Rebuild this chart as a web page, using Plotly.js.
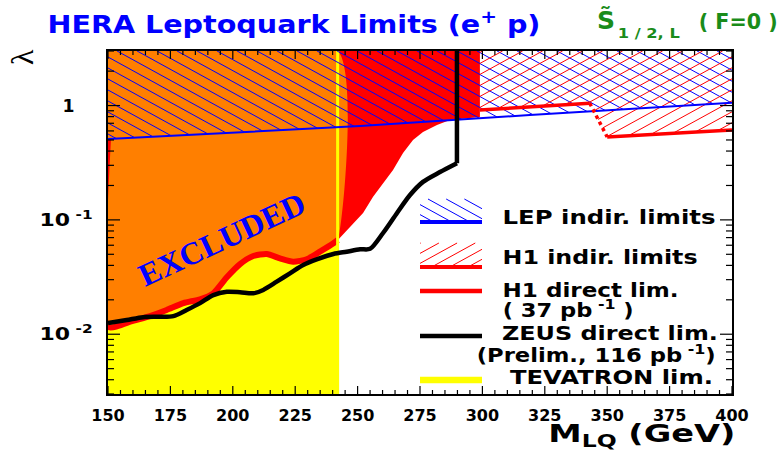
<!DOCTYPE html>
<html><head><meta charset="utf-8">
<script src="https://cdn.plot.ly/plotly-3.0.1.min.js"></script>
<style>html,body{margin:0;padding:0;background:#fff}#chart{width:783px;height:453px}</style>
</head><body><div id="chart"></div>
<script>
// ---------------- data ----------------
const massTickVals = [150, 175, 200, 225, 250, 275, 300, 325, 350, 375, 400];
const massTickText = ['150', '175', '200', '225', '250', '275', '300', '325', '350', '375', '400'];
const lambdaTickVals = [0.01, 0.1, 1];
const lambdaTickText = ['10<sup> -2</sup>', '10<sup> -1</sup>', '1\u00a0\u00a0\u00a0'];

// LEP indirect limit (lambda above excluded)
const lepM = [150, 251, 319, 400];
const lepLambda = [0.51, 0.662, 0.827, 1.06];

// H1 indirect limit
const h1IndirM = [299, 343, 350, 400];
const h1IndirLambda = [0.914, 1.05, 0.531, 0.611];

// H1 direct limit (37 pb^-1)
const h1DirM = [150, 160, 166.8, 173.5, 180.2, 186.9, 192.2, 197.6, 202.9, 208.2, 213.6, 218.9, 224.2, 229.6, 234.9, 240.3, 242.1,
                247, 252.2, 256.2, 260.2, 264.2, 268.2, 272.2, 276.2, 281.8, 287, 299, 299];
const h1DirLambda = [0.0116, 0.0131, 0.0144, 0.0163, 0.0187, 0.0202, 0.0228, 0.0315, 0.0411, 0.0483, 0.0503, 0.0461, 0.0431, 0.0452, 0.0527, 0.0624, 0.0667,
                     0.0867, 0.115, 0.159, 0.210, 0.273, 0.385, 0.500, 0.587, 0.676, 0.748, 0.794, 3.0];

// ZEUS direct limit (preliminary, 116 pb^-1)
const zeusM = [150, 157.5, 164.1, 170.8, 176.2, 181.5, 186.9, 192.2, 197.6, 202.9, 208.2, 212.2, 217.6, 222.9, 228.2, 233.6, 240.3,
               245.6, 251, 255, 260.2, 265.8, 271, 276.2, 283, 289.8, 289.8];
const zeusLambda = [0.0125, 0.0133, 0.0141, 0.0142, 0.0144, 0.0163, 0.0187, 0.0220, 0.0235, 0.0233, 0.0228, 0.0244, 0.0288, 0.0341, 0.0403, 0.0452, 0.0503,
                    0.0527, 0.0553, 0.0558, 0.0768, 0.115, 0.165, 0.215, 0.262, 0.313, 3.0];

// TEVATRON mass limit
const tevatronM = 242;

// axis ranges
const massMin = 150, massMax = 400;
const lambdaMin = 0.003, lambdaMax = 3;

// ---------------- geometry helpers ----------------
const MG = {l: 108, r: 51, t: 51, b: 59};
const W = 783 - MG.l - MG.r, H = 453 - MG.t - MG.b;
const LMIN = Math.log10(lambdaMin), LMAX = Math.log10(lambdaMax);
const toPx = m => (m - massMin) / (massMax - massMin) * W;
const toPy = l => (LMAX - Math.log10(l)) / (LMAX - LMIN) * H;
const fromPx = px => massMin + px / W * (massMax - massMin);
const fromPy = py => Math.pow(10, LMAX - py / H * (LMAX - LMIN));
const PX = x => (x - MG.l) / W;
const PY = y => (MG.t + H - y) / H;

function interp(pts, x) {
  if (x <= pts[0][0]) return pts[0][1];
  for (let i = 1; i < pts.length; i++) {
    if (x <= pts[i][0]) {
      const [x1, y1] = pts[i - 1], [x2, y2] = pts[i];
      return x2 === x1 ? Math.max(y1, y2) : y1 + (y2 - y1) * (x - x1) / (x2 - x1);
    }
  }
  return pts[pts.length - 1][1];
}
function hatch(pts, xa, xb, top, s, gap, phase) {
  const out = [];
  for (let c = -3000 + phase; c < 3000; c += gap) {
    let cand = [xa, xb];
    pts.forEach(p => cand.push(p[0]));
    for (let i = 1; i < pts.length; i++) {
      const [x1, y1] = pts[i - 1], [x2, y2] = pts[i];
      if (x2 === x1) continue;
      const m = (y2 - y1) / (x2 - x1);
      if (Math.abs(s - m) < 1e-9) continue;
      const x = (y1 - m * x1 - c) / (s - m);
      if (x > x1 && x < x2) cand.push(x);
    }
    cand.push((top - c) / s);
    cand = cand.filter(x => x >= xa && x <= xb).sort((a, b) => a - b);
    let cur = null;
    const segs = [];
    for (let i = 1; i < cand.length; i++) {
      const u = cand[i - 1], v = cand[i];
      if (v - u < 1e-6) continue;
      const mid = (u + v) / 2, y = c + s * mid;
      if (y >= top - 1e-9 && y <= interp(pts, mid) + 1e-9) {
        if (cur && Math.abs(cur[1] - u) < 1e-6) cur[1] = v;
        else { if (cur) segs.push(cur); cur = [u, v]; }
      }
    }
    if (cur) segs.push(cur);
    segs.forEach(sg => out.push([[sg[0], c + s * sg[0]], [sg[1], c + s * sg[1]]]));
  }
  return out;
}
function segTrace(segs, color, width) {
  const x = [], y = [];
  segs.forEach(([a, b]) => { x.push(fromPx(a[0]), fromPx(b[0]), null); y.push(fromPy(a[1]), fromPy(b[1]), null); });
  return {x, y, type: 'scatter', mode: 'lines', line: {color, width}, hoverinfo: 'skip', showlegend: false, connectgaps: false};
}

// ---------------- traces ----------------
const traces = [];
traces.push({x: [massMin, tevatronM, tevatronM, massMin], y: [lambdaMin, lambdaMin, lambdaMax, lambdaMax],
  type: 'scatter', mode: 'lines', fill: 'toself', fillcolor: '#FFFF00', line: {width: 0}, hoverinfo: 'skip', showlegend: false});
traces.push({x: h1DirM.concat([massMin]), y: h1DirLambda.concat([lambdaMax]),
  type: 'scatter', mode: 'lines', fill: 'toself', fillcolor: '#FF0000', line: {width: 0}, hoverinfo: 'skip', showlegend: false});
const leftIdx = h1DirM.map((m, i) => i).filter(i => h1DirM[i] <= tevatronM + 0.2);
const leftM = leftIdx.map(i => h1DirM[i]), leftL = leftIdx.map(i => h1DirLambda[i]);
traces.push({x: leftM.concat([leftM[leftM.length - 1], massMin]), y: leftL.concat([lambdaMax, lambdaMax]),
  type: 'scatter', mode: 'lines', fill: 'toself', fillcolor: '#FF7F00', line: {width: 0, shape: 'spline', smoothing: 0.6}, hoverinfo: 'skip', showlegend: false});
traces.push({x: [lepM[0]].concat(leftM), y: [lepLambda[0]].concat(leftL), type: 'scatter', mode: 'lines',
  line: {color: '#FF0000', width: 6, shape: 'spline', smoothing: 0.6}, hoverinfo: 'skip', showlegend: false});
traces.push({x: [tevatronM, tevatronM], y: [lambdaMin, lambdaMax], type: 'scatter', mode: 'lines',
  line: {color: '#FFFF00', width: 3}, hoverinfo: 'skip', showlegend: false});
const lepPts = lepM.map((m, i) => [toPx(m), toPy(lepLambda[i])]);
traces.push(segTrace(hatch(lepPts, 0, W, 0, 0.55, 11, 3), '#0000FF', 1));
const h1iPts = h1IndirM.map((m, i) => [toPx(m), toPy(h1IndirLambda[i])]);
traces.push(segTrace(hatch(h1iPts, toPx(h1IndirM[0]), W, 0, -0.55, 11, 5), '#FF0000', 1));
traces.push({x: lepM, y: lepLambda, type: 'scatter', mode: 'lines', line: {color: '#0000FF', width: 2}, hoverinfo: 'skip', showlegend: false});
traces.push({x: h1IndirM.slice(0, 2), y: h1IndirLambda.slice(0, 2), type: 'scatter', mode: 'lines', line: {color: '#FF0000', width: 3.5}, hoverinfo: 'skip', showlegend: false});
traces.push({x: h1IndirM.slice(1, 3), y: h1IndirLambda.slice(1, 3), type: 'scatter', mode: 'lines', line: {color: '#FF0000', width: 3.5, dash: 'dot'}, hoverinfo: 'skip', showlegend: false});
traces.push({x: h1IndirM.slice(2), y: h1IndirLambda.slice(2), type: 'scatter', mode: 'lines', line: {color: '#FF0000', width: 3.5}, hoverinfo: 'skip', showlegend: false});
const nZ = zeusM.length;
traces.push({x: zeusM.slice(0, nZ - 1), y: zeusLambda.slice(0, nZ - 1), type: 'scatter', mode: 'lines', line: {color: '#000000', width: 4.5, shape: 'spline', smoothing: 0.8}, hoverinfo: 'skip', showlegend: false});
traces.push({x: zeusM.slice(nZ - 2), y: zeusLambda.slice(nZ - 2), type: 'scatter', mode: 'lines', line: {color: '#000000', width: 4.5}, hoverinfo: 'skip', showlegend: false});

// ---------------- frame ticks (inside, on all four sides), drawn on top ----------------
const minorY = [];
[-3, -2, -1, 0].forEach(k => { for (let d = 2; d <= 9; d++) { const v = d * Math.pow(10, k); if (v >= lambdaMin && v <= lambdaMax) minorY.push(v); } });
const tkx = [], tky = [];
for (let v = massMin; v <= massMax; v += 5) {
  const len = (v - massMin) % 25 === 0 ? 8 : 4;
  tkx.push(v, v, null, v, v, null);
  tky.push(lambdaMin, fromPy(H - len), null, lambdaMax, fromPy(len), null);
}
lambdaTickVals.map(v => [v, 12]).concat(minorY.map(v => [v, 6])).forEach(([v, len]) => {
  tkx.push(massMin, fromPx(len), null, massMax, fromPx(W - len), null);
  tky.push(v, v, null, v, v, null);
});
traces.push({x: tkx, y: tky, type: 'scatter', mode: 'lines', line: {color: '#000000', width: 1.2}, hoverinfo: 'skip', showlegend: false, connectgaps: false, cliponaxis: true});

// ---------------- legend (drawn by hand) ----------------
const shapes = [];
const lx0 = 420, lx1 = 482;
function hatchShapes(y0, y1, s, color, phase) {
  const pts = [[lx0 - MG.l, y1 - MG.t], [lx1 - MG.l, y1 - MG.t]];
  hatch(pts, lx0 - MG.l, lx1 - MG.l, y0 - MG.t, s, 10, phase).forEach(([a, b]) => {
    shapes.push({type: 'line', xref: 'paper', yref: 'paper', x0: PX(a[0] + MG.l), y0: PY(a[1] + MG.t), x1: PX(b[0] + MG.l), y1: PY(b[1] + MG.t), line: {color, width: 1}});
  });
}
function lineShape(y, color, width) {
  shapes.push({type: 'line', xref: 'paper', yref: 'paper', x0: PX(lx0), x1: PX(lx1), y0: PY(y), y1: PY(y), line: {color, width}});
}
hatchShapes(199, 222, 0.55, '#0000FF', 2); lineShape(222, '#0000FF', 4);
hatchShapes(243, 267, -0.55, '#FF0000', 4); lineShape(267, '#FF0000', 4);
lineShape(291, '#FF0000', 4.5);
lineShape(336, '#000000', 4.5);
lineShape(380, '#FFFF00', 6.5);

const FB = 'DejaVu Sans';
const stretch = [];
function ann(text, x, y, size, color, anchor, width) {
  stretch.push(width || null);
  return {text, x: PX(x), y: PY(y), xref: 'paper', yref: 'paper', showarrow: false,
    xanchor: anchor || 'center', yanchor: 'middle', font: {family: FB, size, color: color || '#000', weight: 'bold'}};
}
const annotations = [
  ann('HERA Leptoquark Limits (e<sup>+</sup> p)', 293.5, 23, 24, '#0000FF', 'center', 493),
  ann('S\u0303', 595, 21, 25, '#1A8C1A', 'left'),
  ann('1 / 2, L', 649, 33, 14, '#1A8C1A', 'center', 62),
  ann('( F=0 )', 737.5, 22, 21, '#1A8C1A', 'center', 79),
  ann('M<sub>LQ</sub> (GeV)', 642, 436, 24, '#000', 'center', 187),
  ann('LEP indir. limits', 608.5, 217, 19, '#000', 'center', 213),
  ann('H1 indir. limits', 599.5, 257, 19, '#000', 'center', 195),
  ann('H1 direct lim.', 590, 290, 19, '#000', 'center', 176),
  ann('( 37 pb<sup> -1</sup> )', 567.5, 309, 19, '#000', 'center', 131),
  ann('ZEUS direct lim.', 610, 333, 19, '#000', 'center', 216),
  ann('(Prelim., 116 pb<sup> -1</sup>)', 595.5, 354, 19, '#000', 'center', 239),
  ann('TEVATRON lim.', 611.5, 377, 19, '#000', 'center', 203)
];
annotations.push({text: '\u03bb', x: PX(22), y: PY(57), xref: 'paper', yref: 'paper', showarrow: false, textangle: -90,
   xanchor: 'center', yanchor: 'middle', font: {family: 'Liberation Serif', size: 32, color: '#000'}});
stretch.push(null);
annotations.push({text: 'EXCLUDED', x: PX(222), y: PY(239), xref: 'paper', yref: 'paper', showarrow: false, textangle: -25,
   xanchor: 'center', yanchor: 'middle', font: {family: 'Liberation Serif', size: 32, color: '#0000FF', weight: 'bold'}});
stretch.push(null);
const yLabelWidths = [53, 53, 30];

const layout = {
  width: 783, height: 453, margin: MG, paper_bgcolor: '#fff', plot_bgcolor: '#fff', showlegend: false,
  xaxis: {range: [massMin, massMax], tickmode: 'array', tickvals: massTickVals, ticktext: massTickText,
    ticks: '', showline: true, mirror: true, linewidth: 2, linecolor: '#000',
    showgrid: false, zeroline: false, ticklabelstandoff: 6,
    tickfont: {family: FB, size: 16, color: '#000', weight: 'bold'}},
  yaxis: {type: 'log', range: [LMIN, LMAX], tickmode: 'array', tickvals: lambdaTickVals, ticktext: lambdaTickText,
    ticks: '', showline: true, mirror: true, linewidth: 2, linecolor: '#000',
    showgrid: false, zeroline: false, ticklabelstandoff: 10,
    tickfont: {family: FB, size: 17, color: '#000', weight: 'bold'}},
  shapes, annotations
};
Plotly.newPlot('chart', traces, layout, {displayModeBar: false, staticPlot: true}).then(gd => {
  gd.querySelectorAll('.annotation').forEach(g => {
    const i = +g.getAttribute('data-index');
    const w = stretch[i];
    const t = g.querySelector('text.annotation-text');
    if (w && t) { t.setAttribute('textLength', w); t.setAttribute('lengthAdjust', 'spacingAndGlyphs'); }
  });
  gd.querySelectorAll('.ytick text').forEach((t, i) => {
    if (yLabelWidths[i]) { t.setAttribute('textLength', yLabelWidths[i]); t.setAttribute('lengthAdjust', 'spacingAndGlyphs'); }
  });
});
</script></body></html>
